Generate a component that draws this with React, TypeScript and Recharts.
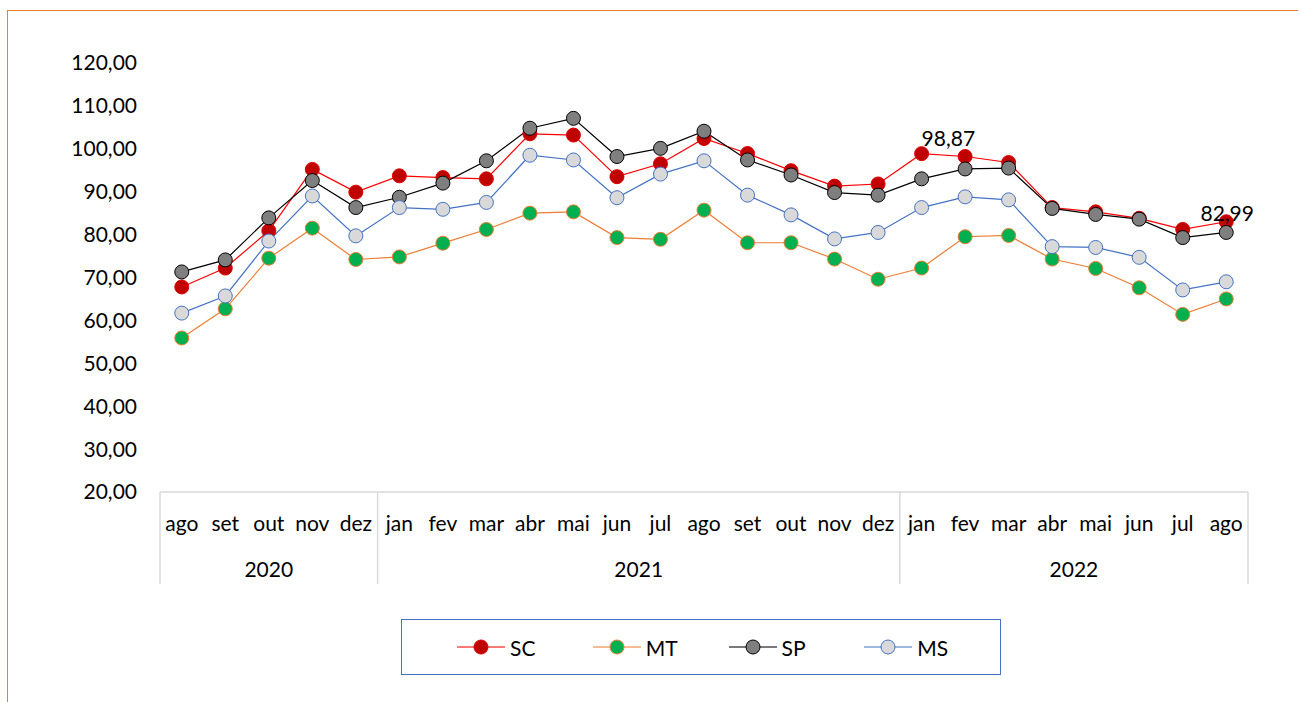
import { LineChart, Line, XAxis, YAxis, LabelList } from "recharts";

const months = [
  "ago", "set", "out", "nov", "dez",
  "jan", "fev", "mar", "abr", "mai", "jun", "jul", "ago", "set", "out", "nov", "dez",
  "jan", "fev", "mar", "abr", "mai", "jun", "jul", "ago",
];
const years = [
  "2020", "2020", "2020", "2020", "2020",
  "2021", "2021", "2021", "2021", "2021", "2021", "2021", "2021", "2021", "2021", "2021", "2021",
  "2022", "2022", "2022", "2022", "2022", "2022", "2022", "2022",
];

const sc = [67.8, 72.2, 80.9, 95.2, 89.9, 93.7, 93.3, 93.0, 103.5, 103.2, 93.5, 96.5, 102.4, 98.9, 94.9, 91.3, 91.8, 98.87, 98.2, 96.8, 86.3, 85.3, 83.8, 81.2, 82.99];
const mt = [55.9, 62.7, 74.5, 81.5, 74.2, 74.8, 78.0, 81.2, 85.0, 85.3, 79.3, 78.9, 85.7, 78.1, 78.1, 74.3, 69.6, 72.2, 79.5, 79.8, 74.3, 72.1, 67.6, 61.4, 65.0];
const sp = [71.3, 74.1, 83.9, 92.6, 86.3, 88.7, 92.0, 97.2, 104.8, 107.1, 98.2, 100.1, 104.1, 97.4, 93.9, 89.8, 89.2, 93.0, 95.3, 95.5, 86.1, 84.7, 83.6, 79.3, 80.5];
const ms = [61.7, 65.7, 78.5, 89.0, 79.7, 86.3, 85.9, 87.5, 98.5, 97.4, 88.6, 94.1, 97.2, 89.2, 84.6, 79.0, 80.5, 86.3, 88.8, 88.1, 77.2, 77.0, 74.7, 67.1, 69.0];

const yTicks = [20, 30, 40, 50, 60, 70, 80, 90, 100, 110, 120];

// SC points that carry a value label (jan/2022 and ago/2022)
const scLabelled = [17, 24];

const data = months.map((m, i) => ({
  key: i,
  month: m,
  year: years[i],
  SC: sc[i],
  MT: mt[i],
  SP: sp[i],
  MS: ms[i],
}));

const series = [
  { name: "SC", line: "#FF0000", fill: "#C00000", edge: "#E00000" },
  { name: "MT", line: "#ED7D31", fill: "#00B050", edge: "#ED7D31" },
  { name: "SP", line: "#000000", fill: "#7F7F7F", edge: "#000000" },
  { name: "MS", line: "#4472C4", fill: "#D9D9D9", edge: "#4472C4" },
];

const W = 1300;
const H = 702;
const PLOT_LEFT = 160;
const PLOT_RIGHT = 1248;
const PLOT_TOP = 63;
const PLOT_BOTTOM = 492;
const BAND = (PLOT_RIGHT - PLOT_LEFT) / months.length;
const FONT = "Lato, 'Open Sans', sans-serif";

const fmt = (v: number) => v.toFixed(2).replace(".", ",");

// year groups: first index and length
const groups: { year: string; start: number; len: number }[] = [];
years.forEach((y, i) => {
  const g = groups[groups.length - 1];
  if (g && g.year === y) g.len += 1;
  else groups.push({ year: y, start: i, len: 1 });
});

function MonthTick(props: any) {
  const { x, index } = props;
  const top = PLOT_BOTTOM;
  const group = groups.find((g) => g.start === index);
  const last = index === months.length - 1;
  return (
    <g>
      <text x={x} y={top + 39} textAnchor="middle" fill="#000" fontSize={21} fontFamily={FONT}>
        {months[index]}
      </text>
      {group && (
        <>
          <line x1={x - BAND / 2} x2={x - BAND / 2} y1={top} y2={top + 92} stroke="#D9D9D9" strokeWidth={1.5} />
          <text
            x={x - BAND / 2 + (group.len * BAND) / 2}
            y={top + 85}
            textAnchor="middle"
            fill="#000"
            fontSize={21}
            fontFamily={FONT}
          >
            {group.year}
          </text>
        </>
      )}
      {last && (
        <line x1={x + BAND / 2} x2={x + BAND / 2} y1={top} y2={top + 92} stroke="#D9D9D9" strokeWidth={1.5} />
      )}
    </g>
  );
}

function ScLabel(props: any) {
  const { x, y, index, value } = props;
  if (!scLabelled.includes(index)) return null;
  const first = index === scLabelled[0];
  return (
    <text
      x={first ? x : x + 1}
      y={first ? y - 8 : y - 1}
      textAnchor={first ? "start" : "middle"}
      fill="#000"
      fontSize={21}
      fontFamily={FONT}
    >
      {fmt(value)}
    </text>
  );
}

function LegendBox() {
  return (
    <div
      style={{
        position: "absolute",
        left: 401,
        top: 619,
        width: 600,
        height: 56,
        border: "1px solid #4472C4",
        boxSizing: "border-box",
        display: "flex",
        alignItems: "center",
        paddingLeft: 55,
        fontFamily: FONT,
        fontSize: 21,
        color: "#000",
      }}
    >
      {series.map((s) => (
        <div key={s.name} style={{ display: "flex", alignItems: "center", width: 138 }}>
          <svg width={48} height={20}>
            <line x1={0} x2={48} y1={10} y2={10} stroke={s.line} strokeOpacity={0.7} strokeWidth={1.5} />
            <circle cx={24} cy={10} r={7} fill={s.fill} stroke={s.edge} strokeWidth={1} />
          </svg>
          <span style={{ marginLeft: 5 }}>{s.name}</span>
        </div>
      ))}
    </div>
  );
}

export default function App() {
  return (
    <div style={{ position: "absolute", left: 0, top: 0, width: W, height: H, background: "#fff" }}>
      <div
        style={{
          position: "absolute",
          left: 7,
          top: 10,
          width: 1290,
          height: H - 10,
          borderTop: "1px solid #ED7D31",
          borderLeft: "1px solid #ED7D31",
        }}
      />
      <div style={{ position: "absolute", left: 0, top: 0 }}>
        <LineChart
          width={W}
          height={H}
          data={data}
          margin={{ top: PLOT_TOP, right: W - PLOT_RIGHT, bottom: H - PLOT_BOTTOM - 100, left: PLOT_LEFT - 100 }}
        >
          <XAxis
            dataKey="key"
            type="category"
            scale="band"
            height={100}
            interval={0}
            tickLine={false}
            tickSize={0}
            tickMargin={0}
            axisLine={{ stroke: "#D9D9D9", strokeWidth: 1.5 }}
            tick={<MonthTick />}
          />
          <YAxis
            width={100}
            domain={[20, 120]}
            ticks={yTicks}
            interval={0}
            axisLine={false}
            tickLine={false}
            tickSize={0}
            tickMargin={23}
            tickFormatter={fmt}
            tick={{ fill: "#000", fontSize: 21, fontFamily: FONT }}
          />
          {series.map((s) => (
            <Line
              key={s.name}
              dataKey={s.name}
              name={s.name}
              type="linear"
              stroke={s.line}
              strokeWidth={1.2}
              dot={{ r: 7, fill: s.fill, stroke: s.edge, strokeWidth: 1, fillOpacity: 1 }}
              activeDot={false}
              isAnimationActive={false}
            >
              {s.name === "SC" && <LabelList dataKey="SC" content={<ScLabel />} />}
            </Line>
          ))}
        </LineChart>
      </div>
      <LegendBox />
    </div>
  );
}
